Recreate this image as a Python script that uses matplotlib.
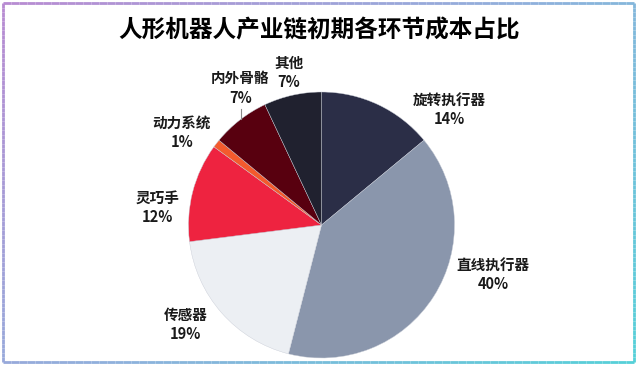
import numpy as np
import matplotlib.pyplot as plt
from matplotlib.collections import LineCollection
from matplotlib.colors import LinearSegmentedColormap

plt.rcParams['font.family'] = ['Noto Sans CJK SC', 'DejaVu Sans']

labels = ["旋转执行器", "直线执行器", "传感器", "灵巧手", "动力系统", "内外骨骼", "其他"]
shares = [14, 40, 19, 12, 1, 7, 7]
colors = ["#2b2e47", "#8a96ac", "#eceff3", "#ee2340", "#f35a2d", "#58000f", "#20212f"]

# where each label sits (axes data units, pie radius = 1)
label_pos = [(0.96, 0.87), (1.29, -0.37), (-1.02, -0.75), (-1.23, 0.13),
             (-1.05, 0.70), (-0.61, 1.03), (-0.245, 1.15)]

W, H = 639, 367
fig = plt.figure(figsize=(W / 100, H / 100), dpi=100)

# gradient frame round the chart
x0, y0, x1, y1 = 3 / W, 1 - 3 / H, 634 / W, 1 - 362 / H
pts = []
for a, b in [((x0, y0), (x1, y0)), ((x1, y0), (x1, y1)), ((x1, y1), (x0, y1)), ((x0, y1), (x0, y0))]:
    t = np.linspace(0, 1, 80)
    seg = np.column_stack([a[0] + (b[0] - a[0]) * t, a[1] + (b[1] - a[1]) * t])
    pts.append(seg)
pts = np.vstack(pts)
segs = np.stack([pts[:-1], pts[1:]], axis=1)
mid = segs.mean(axis=1)
val = (mid[:, 0] - x0) / (x1 - x0) * 0.6 + (y0 - mid[:, 1]) / (y0 - y1) * 0.4
cmap = LinearSegmentedColormap.from_list("frame", ["#b88bd2", "#8fb0dc", "#55d0d8"])
lc = LineCollection(segs, colors=cmap(val), linewidth=2, transform=fig.transFigure)
fig.add_artist(lc)

r_px = 133
cx, cy = 321.5, 225
ax = fig.add_axes([(cx - r_px) / W, (H - cy - r_px) / H, 2 * r_px / W, 2 * r_px / H])
wedges, _ = ax.pie(shares, colors=colors, startangle=90, counterclock=False,
                   radius=1, wedgeprops=dict(edgecolor="#c8ccd6", linewidth=0.3))
ax.set_xlim(-1, 1)
ax.set_ylim(-1, 1)
ax.set_aspect("equal")
ax.axis("off")

for name, v, (lx, ly) in zip(labels, shares, label_pos):
    ax.text(lx, ly, f"{name}\n{v}%", ha="center", va="center", fontsize=10.5,
            fontweight="bold", color="#1a1a1a", linespacing=1.25)

# short leader line for 内外骨骼
ax.plot([-0.605, -0.605], [0.87, 0.80], color="#8a8a8a", linewidth=0.8)

fig.text(0.5, 1 - 30 / H, "人形机器人产业链初期各环节成本占比", ha="center", va="center",
         fontsize=17, fontweight="bold", color="black")

fig.savefig("out.png", dpi=100)
